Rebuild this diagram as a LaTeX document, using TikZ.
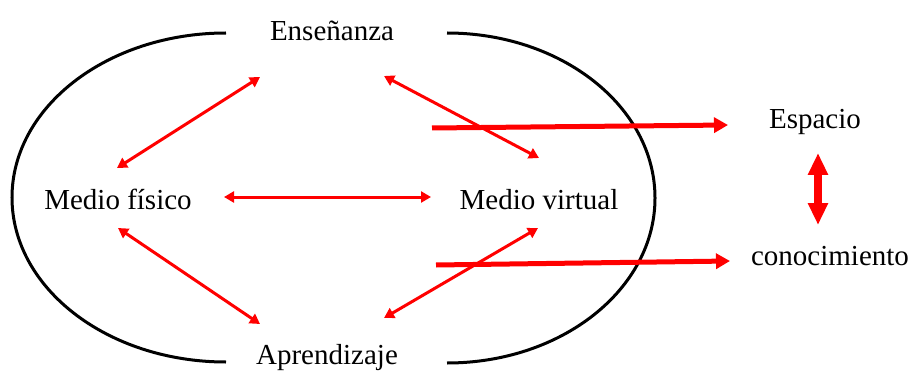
\documentclass[tikz,border=0pt]{standalone}
\usepackage{fontspec}
\setmainfont{Liberation Serif}
\usetikzlibrary{arrows.meta}

\tikzset{
    lbl/.style={font=\fontsize{29}{34}\selectfont, inner sep=0pt, anchor=base},
    rim/.style={line width=3pt},
    bi/.style={red, line width=3pt, {Triangle[length=10pt,width=11pt]}-{Triangle[length=10pt,width=11pt]}},
    fat/.style={red, line width=5pt, -{Triangle[length=14pt,width=15pt]}},
    big/.style={red, line width=8pt, {Triangle[length=22pt,width=19pt]}-{Triangle[length=22pt,width=19pt]}}
}

\begin{document}
\begin{tikzpicture}[x=1pt, y=-1pt]
    \useasboundingbox (0,0) rectangle (912,374);

    % the two halves of the ring
    \draw[rim] (226,33) arc[start angle=90, end angle=270, x radius=214pt, y radius=164.5pt];
    \draw[rim] (447,33) arc[start angle=90, end angle=-90, x radius=208pt, y radius=165pt];

    \node[lbl] (ens) at (332,41) {Enseñanza};
    \node[lbl] (apr) at (327,364) {Aprendizaje};
    \node[lbl] (fis) at (118,209) {Medio físico};
    \node[lbl] (vir) at (539,209) {Medio virtual};
    \node[lbl] (esp) at (815,129) {Espacio};
    \node[lbl] (con) at (830,265) {conocimiento};

    % arrow ends
    \coordinate (ens-l) at (260,77);
    \coordinate (ens-r) at (384,76);
    \coordinate (fis-t) at (117,168);
    \coordinate (fis-r) at (224,197);
    \coordinate (fis-b) at (118,228);
    \coordinate (vir-t) at (539,158);
    \coordinate (vir-l) at (431,197);
    \coordinate (vir-b) at (538,228);
    \coordinate (apr-l) at (260,324);
    \coordinate (apr-r) at (384,318);
    \coordinate (out-t) at (432,128);
    \coordinate (out-b) at (436,265);
    \coordinate (esp-l) at (728,125);
    \coordinate (con-l) at (730,261);
    \coordinate (esp-b) at (818,153);
    \coordinate (con-t) at (818,225);

    \draw[bi] (ens-l) -- (fis-t);
    \draw[bi] (ens-r) -- (vir-t);
    \draw[bi] (fis-r) -- (vir-l);
    \draw[bi] (fis-b) -- (apr-l);
    \draw[bi] (vir-b) -- (apr-r);

    \draw[fat] (out-t) -- (esp-l);
    \draw[fat] (out-b) -- (con-l);
    \draw[big] (esp-b) -- (con-t);
\end{tikzpicture}
\end{document}
